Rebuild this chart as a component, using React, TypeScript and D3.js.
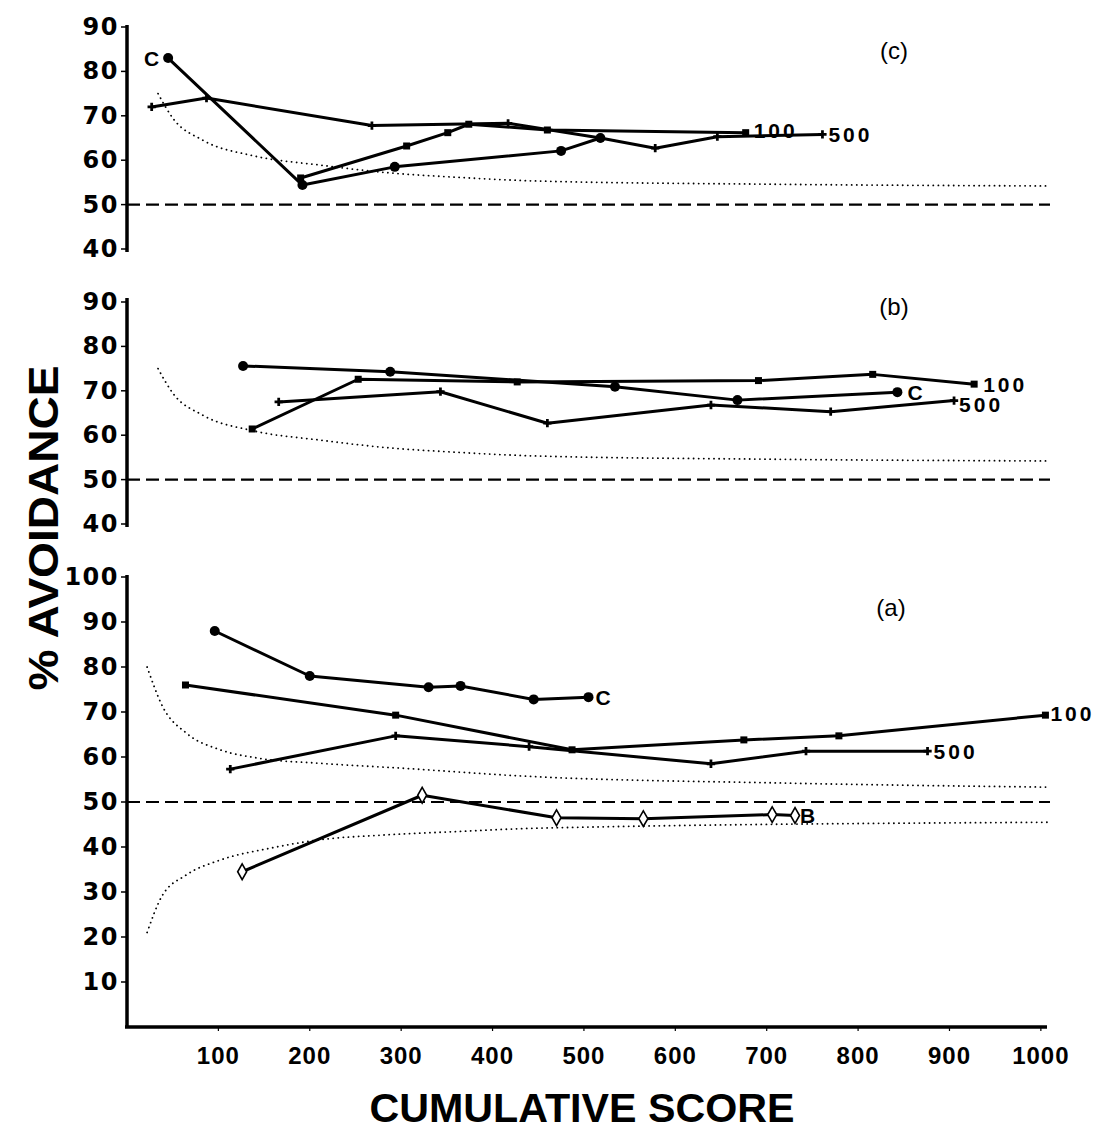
import React from 'react';
import * as d3 from 'd3';

// x axis: cumulative score
const xTicks = [100, 200, 300, 400, 500, 600, 700, 800, 900, 1000];

// panel (c)
const cTicks = [40, 50, 60, 70, 80, 90];
const c_C_s = [45, 192, 293, 475, 518];
const c_C_v = [83, 54.4, 58.5, 62.1, 65];
const c_100_s = [190, 306, 351, 374, 460, 677];
const c_100_v = [56, 63.2, 66.2, 68.1, 66.8, 66.2];
const c_500_s = [27, 87, 268, 417, 518, 578, 646, 761];
const c_500_v = [72, 74, 67.8, 68.3, 65, 62.7, 65.3, 65.8];

// panel (b)
const bTicks = [40, 50, 60, 70, 80, 90];
const b_C_s = [127, 288, 534, 668, 843];
const b_C_v = [75.6, 74.3, 70.9, 67.9, 69.7];
const b_100_s = [137, 253, 427, 691, 816, 927];
const b_100_v = [61.4, 72.6, 72.0, 72.3, 73.7, 71.5];
const b_500_s = [166, 343, 460, 639, 770, 905];
const b_500_v = [67.5, 69.8, 62.7, 66.8, 65.3, 67.8];

// panel (a)
const aTicks = [10, 20, 30, 40, 50, 60, 70, 80, 90, 100];
const a_C_s = [96, 200, 330, 365, 445, 505];
const a_C_v = [88, 78, 75.5, 75.8, 72.8, 73.3];
const a_100_s = [64, 294, 487, 675, 779, 1005];
const a_100_v = [76, 69.3, 61.6, 63.8, 64.7, 69.3];
const a_500_s = [113, 294, 440, 639, 743, 876];
const a_500_v = [57.3, 64.7, 62.3, 58.5, 61.3, 61.3];
const a_B_s = [126, 323, 470, 565, 706, 731];
const a_B_v = [34.5, 51.5, 46.5, 46.3, 47.2, 47];

// dotted limit curves
const upperBC_s = [34, 50, 83, 138, 211, 284, 357, 452, 700, 1010];
const upperBC_v = [75, 69.5, 64.5, 61, 58.9, 57.2, 56.2, 55.3, 54.6, 54.2];
const upperA_s = [22, 39, 65, 102, 145, 211, 302, 430, 722, 1010];
const upperA_v = [80, 71.2, 65.3, 61.6, 59.7, 58.6, 57.5, 55.8, 54.2, 53.3];
const lowerA_s = [22, 38, 65, 102, 156, 211, 284, 357, 452, 1010];
const lowerA_v = [21, 29, 33.8, 37.1, 39.7, 41.6, 42.7, 43.4, 44.2, 45.5];

const x = d3.scaleLinear().domain([0, 1010]).range([127, 1050]);

const zip = (s, v) => s.map((d, i) => [d, v[i]]);

const FONT = '"DejaVu Sans", "Liberation Sans", sans-serif';
const LFONT = '"Liberation Sans", Arial, sans-serif';
const NFONT = '"Liberation Sans Narrow", "Liberation Sans", sans-serif';

function Marker({ type, cx, cy }) {
  if (type === 'circle') return <circle cx={cx} cy={cy} r={5} fill="#000" />;
  if (type === 'square') return <rect x={cx - 3.5} y={cy - 3.5} width={7} height={7} fill="#000" />;
  if (type === 'diamond')
    return (
      <path
        d={d3.symbol().type(d3.symbolDiamond).size(70)()}
        transform={`translate(${cx},${cy})`}
        fill="#fff"
        stroke="#000"
        strokeWidth={1.6}
      />
    );
  return (
    <path
      d={d3.symbol().type(d3.symbolCross).size(38)()}
      transform={`translate(${cx},${cy})`}
      fill="#000"
    />
  );
}

function Series({ s, v, y, type, label, lx, ly }) {
  const pts = zip(s, v);
  const line = d3.line().x(d => x(d[0])).y(d => y(d[1]));
  const last = pts[pts.length - 1];
  return (
    <g>
      <path d={line(pts)} fill="none" stroke="#000" strokeWidth={3} strokeLinejoin="round" />
      {pts.map((d, i) => (
        <Marker key={i} type={type} cx={x(d[0])} cy={y(d[1])} />
      ))}
      {label && (
        <text
          x={x(last[0]) + lx}
          y={y(last[1]) + ly}
          fontFamily={LFONT}
          fontWeight="bold"
          fontSize={21}
          letterSpacing={label.length > 1 ? 3 : 0}
          dominantBaseline="central"
        >
          {label}
        </text>
      )}
    </g>
  );
}

function Limit({ s, v, y }) {
  const line = d3.line().x(d => x(d[0])).y(d => y(d[1])).curve(d3.curveMonotoneX);
  return (
    <path
      d={line(zip(s, v))}
      fill="none"
      stroke="#000"
      strokeWidth={1.8}
      strokeDasharray="0.1 5"
      strokeLinecap="round"
    />
  );
}

function YAxis({ y, ticks, top, bottom }) {
  return (
    <g>
      <line x1={127} x2={127} y1={top} y2={bottom} stroke="#000" strokeWidth={3.5} />
      {ticks.map(t => (
        <g key={t}>
          <line x1={121} x2={127} y1={y(t)} y2={y(t)} stroke="#000" strokeWidth={1.5} />
          <text
            x={119}
            y={y(t)}
            textAnchor="end"
            dominantBaseline="central"
            fontFamily={FONT}
            fontWeight="bold"
            fontSize={24}
            letterSpacing={1.5}
          >
            {t}
          </text>
        </g>
      ))}
      <line
        x1={127}
        x2={x(1010)}
        y1={y(50)}
        y2={y(50)}
        stroke="#000"
        strokeWidth={2.2}
        strokeDasharray="13 6"
      />
    </g>
  );
}

export default function App() {
  const yC = d3.scaleLinear().domain([40, 90]).range([249, 27]);
  const yB = d3.scaleLinear().domain([40, 90]).range([524, 302]);
  const yA = d3.scaleLinear().domain([0, 100]).range([1027, 577]);

  return (
    <svg
      width={1118}
      height={1130}
      style={{ position: 'absolute', left: 0, top: 0, background: '#fff' }}
    >
      <rect width={1118} height={1130} fill="#fff" />

      {/* panel (c) */}
      <YAxis y={yC} ticks={cTicks} top={25} bottom={252} />
      <Limit s={upperBC_s} v={upperBC_v} y={yC} />
      <Series s={c_500_s} v={c_500_v} y={yC} type="cross" label="500" lx={6} ly={0} />
      <Series s={c_100_s} v={c_100_v} y={yC} type="square" label="100" lx={8} ly={-2} />
      <Series s={c_C_s} v={c_C_v} y={yC} type="circle" />
      <text x={x(c_C_s[0]) - 9} y={yC(c_C_v[0])} textAnchor="end" dominantBaseline="central"
        fontFamily={LFONT} fontWeight="bold" fontSize={21}>C</text>
      <text x={894} y={50} textAnchor="middle" dominantBaseline="central" fontFamily={LFONT} fontSize={24}>(c)</text>

      {/* panel (b) */}
      <YAxis y={yB} ticks={bTicks} top={298} bottom={527} />
      <Limit s={upperBC_s} v={upperBC_v} y={yB} />
      <Series s={b_500_s} v={b_500_v} y={yB} type="cross" label="500" lx={5} ly={4} />
      <Series s={b_100_s} v={b_100_v} y={yB} type="square" label="100" lx={9} ly={0} />
      <Series s={b_C_s} v={b_C_v} y={yB} type="circle" label="C" lx={10} ly={0} />
      <text x={894} y={306} textAnchor="middle" dominantBaseline="central" fontFamily={LFONT} fontSize={24}>(b)</text>

      {/* panel (a) */}
      <YAxis y={yA} ticks={aTicks} top={575} bottom={1027} />
      <line x1={125} x2={1047} y1={1027} y2={1027} stroke="#000" strokeWidth={3.5} />
      <Limit s={upperA_s} v={upperA_v} y={yA} />
      <Limit s={lowerA_s} v={lowerA_v} y={yA} />
      <Series s={a_100_s} v={a_100_v} y={yA} type="square" label="100" lx={5} ly={-2} />
      <Series s={a_500_s} v={a_500_v} y={yA} type="cross" label="500" lx={6} ly={0} />
      <Series s={a_C_s} v={a_C_v} y={yA} type="circle" label="C" lx={7} ly={0} />
      <Series s={a_B_s} v={a_B_v} y={yA} type="diamond" label="B" lx={5} ly={0} />
      <text x={891} y={607} textAnchor="middle" dominantBaseline="central" fontFamily={LFONT} fontSize={24}>(a)</text>

      {/* x axis labels */}
      {xTicks.map(t => (
        <g key={t}>
          <line x1={x(t)} x2={x(t)} y1={1027} y2={1031} stroke="#000" strokeWidth={1.2} />
          <text x={x(t)} y={1055} textAnchor="middle" dominantBaseline="central"
            fontFamily={LFONT} fontWeight="bold" fontSize={24} letterSpacing={1}>
            {t}
          </text>
        </g>
      ))}

      <text x={582} y={1122} textAnchor="middle" fontFamily={NFONT}
        fontWeight="bold" fontSize={40} textLength={425} lengthAdjust="spacingAndGlyphs">
        CUMULATIVE SCORE
      </text>
      <text transform="translate(58,528) rotate(-90)" textAnchor="middle"
        fontFamily={NFONT}
        fontWeight="bold" fontSize={42} textLength={325} lengthAdjust="spacingAndGlyphs">
        % AVOIDANCE
      </text>
    </svg>
  );
}
